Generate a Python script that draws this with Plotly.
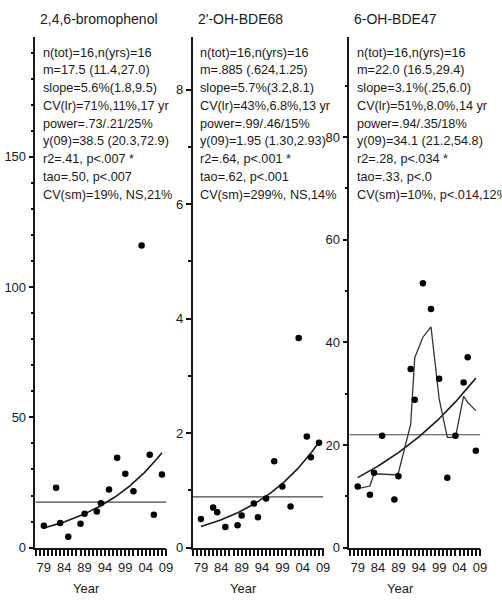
import numpy as np
import plotly.graph_objects as go

# Sampling years (16 years, one pooled sample per year)
years = [1979, 1982, 1983, 1985, 1988, 1989, 1992, 1993,
         1995, 1997, 1999, 2001, 2003, 2005, 2006, 2008]

# Annual concentrations for each compound
bromophenol = [8.4, 23.0, 9.5, 4.2, 9.2, 13.0, 13.9, 17.0,
               22.3, 34.5, 28.4, 21.6, 116.0, 35.7, 12.6, 28.1]
oh_bde68 = [0.50, 0.70, 0.62, 0.36, 0.39, 0.56, 0.77, 0.53,
            0.86, 1.51, 1.07, 0.72, 3.66, 1.94, 1.58, 1.83]
oh_bde47 = [11.9, 10.3, 14.6, 21.8, 9.4, 13.9, 34.8, 28.8,
            51.5, 46.5, 32.9, 13.6, 21.8, 32.2, 37.1, 18.9]

# Running smoother shown for 6-OH-BDE47
oh_bde47_smooth = [11.5, 12.0, 14.4, 14.3, 14.2, 14.6, 24.0, 37.0,
                   41.0, 43.0, 29.0, 21.5, 21.5, 29.5, 28.3, 26.7]

titles = ["2,4,6-bromophenol", "2'-OH-BDE68", "6-OH-BDE47"]

# Geometric means, slopes (fraction/yr) and predicted 2009 levels
means = [17.5, 0.885, 22.0]
slopes = [0.056, 0.057, 0.031]
y09 = [38.5, 1.95, 34.1]

stats = [
    ["n(tot)=16,n(yrs)=16", "m=17.5 (11.4,27.0)", "slope=5.6%(1.8,9.5)",
     "CV(lr)=71%,11%,17 yr", "power=.73/.21/25%", "y(09)=38.5 (20.3,72.9)",
     "r2=.41, p<.007 *", "tao=.50, p<.007", "CV(sm)=19%, NS,21%"],
    ["n(tot)=16,n(yrs)=16", "m=.885 (.624,1.25)", "slope=5.7%(3.2,8.1)",
     "CV(lr)=43%,6.8%,13 yr", "power=.99/.46/15%", "y(09)=1.95 (1.30,2.93)",
     "r2=.64, p<.001 *", "tao=.62, p<.001", "CV(sm)=299%, NS,14%"],
    ["n(tot)=16,n(yrs)=16", "m=22.0 (16.5,29.4)", "slope=3.1%(.25,6.0)",
     "CV(lr)=51%,8.0%,14 yr", "power=.94/.35/18%", "y(09)=34.1 (21.2,54.8)",
     "r2=.28, p<.034 *", "tao=.33, p<.0", "CV(sm)=10%, p<.014,12%"],
]

y_ranges = [[0, 195.8], [0, 8.91], [0, 99.4]]
y_major = [50, 2, 20]
y_minor = [10, 1, 10]

# Two-digit year labels every fifth year, a tick every year
x_first_label, x_label_step = 1979, 5
x_label_alias = {str(y): f"{y % 100:02d}" for y in range(1979, 2010, 5)}
x_range = [1976.95, 2009.1]

W, H = 502, 603
axis_left_px = [36, 195.3, 354.3]
axis_width_px = 132.8
y_bottom_px, y_top_px = 555, 38

FONT = "Liberation Sans, Arial, sans-serif"
INK = "#1a1a1a"
TICK = "#111111"

fig = go.Figure()
series = [bromophenol, oh_bde68, oh_bde47]

for i in range(3):
    xa = "x" if i == 0 else f"x{i + 1}"
    ya = "y" if i == 0 else f"y{i + 1}"

    # Mean level
    fig.add_trace(go.Scatter(
        x=[x_range[0], x_range[1]], y=[means[i], means[i]], mode="lines",
        line=dict(color="#444", width=1.2), xaxis=xa, yaxis=ya,
        showlegend=False, hoverinfo="skip"))

    # Log-linear regression line
    t = np.linspace(years[0], years[-1], 120)
    fit = y09[i] * (1 + slopes[i]) ** (t - 2009)
    fig.add_trace(go.Scatter(
        x=t, y=fit, mode="lines", line=dict(color=INK, width=1.6),
        xaxis=xa, yaxis=ya, showlegend=False, hoverinfo="skip"))

    if i == 2:
        fig.add_trace(go.Scatter(
            x=years, y=oh_bde47_smooth, mode="lines",
            line=dict(color="#333", width=1.3), xaxis=xa, yaxis=ya,
            showlegend=False))

    fig.add_trace(go.Scatter(
        x=years, y=series[i], mode="markers",
        marker=dict(color="black", size=6.5), xaxis=xa, yaxis=ya,
        showlegend=False))

fig.update_layout(
    width=W, height=H, margin=dict(l=0, r=0, t=0, b=0),
    plot_bgcolor="white", paper_bgcolor="white",
    font=dict(family=FONT, size=13, color=INK),
)

ydom = [(H - y_bottom_px) / H, (H - y_top_px) / H]
annotations = []
for i in range(3):
    x0 = axis_left_px[i] / W
    x1 = (axis_left_px[i] + axis_width_px) / W
    fig.layout["xaxis" if i == 0 else f"xaxis{i + 1}"] = dict(
        domain=[x0, x1], range=x_range, anchor="y" if i == 0 else f"y{i + 1}",
        tickmode="linear", tick0=x_first_label, dtick=x_label_step,
        labelalias=x_label_alias,
        ticks="outside", ticklen=7, tickwidth=1.6, tickcolor=TICK,
        showline=True, linecolor=INK, linewidth=1.6, showgrid=False,
        zeroline=False, tickfont=dict(family=FONT, size=13, color=INK),
        minor=dict(dtick=1, tick0=x_first_label,
                   ticks="outside", ticklen=7, tickwidth=1.6,
                   tickcolor=TICK, showgrid=False),
    )
    fig.layout["yaxis" if i == 0 else f"yaxis{i + 1}"] = dict(
        domain=ydom, range=y_ranges[i], anchor="x" if i == 0 else f"x{i + 1}",
        tickmode="linear", tick0=0, dtick=y_major[i],
        ticks="outside", ticklen=5, tickwidth=1.6, tickcolor=TICK,
        showline=True, linecolor=INK, linewidth=1.6, showgrid=False,
        zeroline=False, tickfont=dict(family=FONT, size=13, color=INK),
        minor=dict(dtick=y_minor[i], tick0=0,
                   ticks="outside", ticklen=3, tickwidth=1.6,
                   tickcolor=TICK, showgrid=False),
    )

    # Panel title
    annotations.append(dict(
        text=titles[i], xref="paper", yref="paper",
        x=(axis_left_px[i] + 3) / W, y=(H - 19) / H,
        xanchor="left", yanchor="middle", showarrow=False,
        font=dict(family=FONT, size=14, color=INK)))

    # Statistics block
    for j, line in enumerate(stats[i]):
        annotations.append(dict(
            text=line, xref="paper", yref="paper",
            x=(axis_left_px[i] + 6) / W, y=(H - (53.3 + 18 * j)) / H,
            xanchor="left", yanchor="middle", showarrow=False,
            font=dict(family=FONT, size=12.7, color=INK)))

    # x-axis title
    annotations.append(dict(
        text="Year", xref="paper", yref="paper",
        x=(axis_left_px[i] + 52) / W, y=(H - 596) / H,
        xanchor="center", yanchor="middle", showarrow=False,
        font=dict(family=FONT, size=13, color=INK)))

fig.update_layout(annotations=annotations)
fig.write_html("out.html")
